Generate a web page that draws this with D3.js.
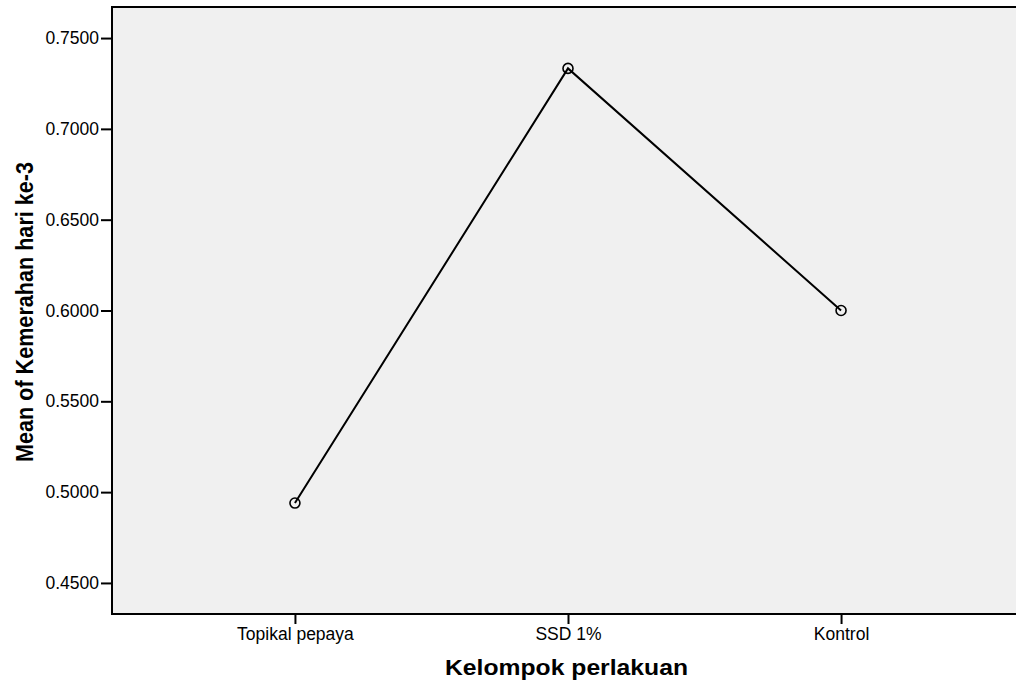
<!DOCTYPE html>
<html><head><meta charset="utf-8">
<script src="https://cdn.jsdelivr.net/npm/d3@7"></script>
<style>body{margin:0;background:#fff}svg{display:block}</style>
</head><body>
<svg id="c" width="1016" height="683"></svg>
<script>
const categories = ["Topikal pepaya", "SSD 1%", "Kontrol"];
const means = [0.4940, 0.7333, 0.6000];
const yTicks = [0.45, 0.50, 0.55, 0.60, 0.65, 0.70, 0.75];

const svg = d3.select("#c");
const L = 112, T = 7, R = 1024, B = 614;
const x = d3.scalePoint().domain(categories).range([L, R]).padding(0.67);
const y = d3.scaleLinear().domain([0.4329, 0.7671]).range([B, T]);

svg.append("rect").attr("x", L).attr("y", T).attr("width", R - L).attr("height", B - T).attr("fill", "#f0f0f0");

const font = "Liberation Sans, Arial, sans-serif";
const yAxis = svg.append("g").attr("transform", `translate(${L},0)`)
  .call(d3.axisLeft(y).tickValues(yTicks).tickFormat(d3.format(".4f")).tickSize(11).tickSizeOuter(0));
const xAxis = svg.append("g").attr("transform", `translate(0,${B})`)
  .call(d3.axisBottom(x).tickSize(10).tickSizeOuter(0));
[yAxis, xAxis].forEach(g => {
  g.select(".domain").remove();
  g.selectAll("line").attr("stroke", "#000").attr("stroke-width", 2);
  g.selectAll("text").attr("font-family", font).attr("font-size", 17.5).attr("fill", "#000");
});
yAxis.selectAll("text").attr("x", -13);
xAxis.selectAll("text").attr("y", 14);

// frame lines
svg.append("path").attr("d", `M${R},${T}H${L}V${B}H${R}`).attr("fill", "none").attr("stroke", "#000").attr("stroke-width", 2);

const line = d3.line().x((d, i) => x(categories[i])).y(d => y(d));
svg.append("path").datum(means).attr("d", line).attr("fill", "none").attr("stroke", "#000").attr("stroke-width", 2);
svg.selectAll("circle.m").data(means).join("circle").attr("class", "m")
  .attr("cx", (d, i) => x(categories[i])).attr("cy", d => y(d)).attr("r", 5)
  .attr("fill", "none").attr("stroke", "#000").attr("stroke-width", 1.6);

svg.append("text").attr("x", 566.5).attr("y", 675).attr("text-anchor", "middle")
  .attr("font-family", font).attr("font-weight", "bold").attr("font-size", 22.5)
  .attr("textLength", 243).attr("lengthAdjust", "spacingAndGlyphs").text("Kelompok perlakuan");
svg.append("text").attr("transform", "translate(32.5,312) rotate(-90)").attr("text-anchor", "middle")
  .attr("font-family", font).attr("font-weight", "bold").attr("font-size", 23.5)
  .attr("textLength", 300).attr("lengthAdjust", "spacingAndGlyphs").text("Mean of Kemerahan hari ke-3");
</script>
</body></html>
